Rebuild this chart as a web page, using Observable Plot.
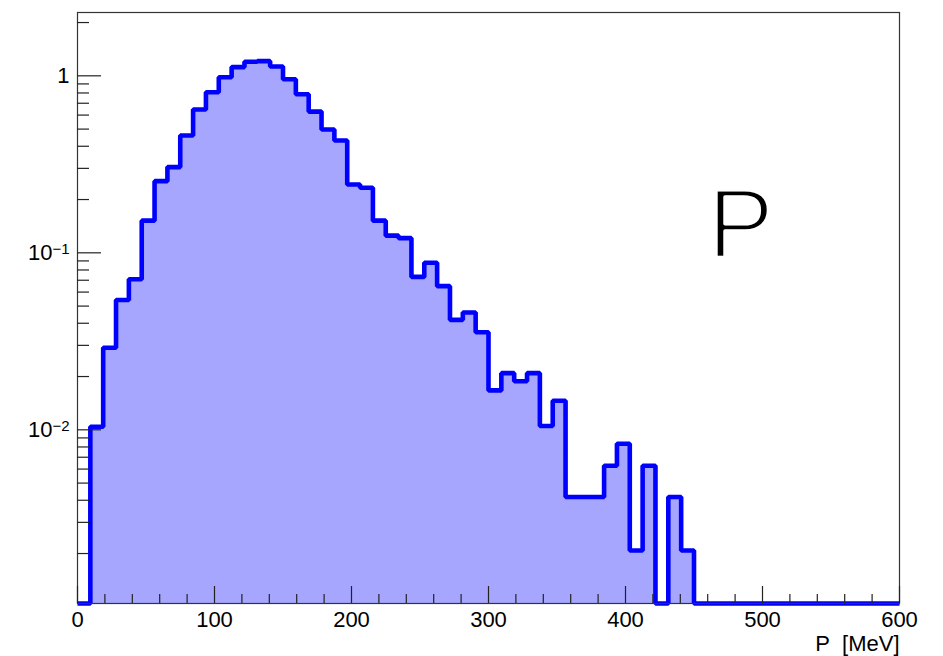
<!DOCTYPE html>
<html>
<head>
<meta charset="utf-8">
<script src="https://cdn.jsdelivr.net/npm/d3@7"></script>
<script src="https://cdn.jsdelivr.net/npm/@observablehq/plot@0.6"></script>
<style>
  body { margin: 0; background: #fff; }
  svg { display: block; }
</style>
</head>
<body>
<div id="chart"></div>
<script>
// ---- data (64 bins over 0..600 MeV) ----
const binCount = 64;
const xMin = 0, xMax = 600;
const values = [
  0,       0.0104,  0.0291,  0.0541,  0.0709,  0.152,   0.254,   0.305,
  0.46,    0.645,   0.807,   0.982,   1.12,    1.20,    1.21,    1.13,
  0.957,   0.787,   0.628,   0.497,   0.431,   0.243,   0.233,   0.152,
  0.125,   0.121,   0.0731,  0.0879,  0.0648,  0.0418,  0.046,   0.0356,
  0.0167,  0.0209,  0.0188,  0.0209,  0.0105,  0.0146,  0.00417, 0.00417,
  0.00417, 0.00626, 0.00834, 0.00208, 0.00626, 0,       0.00417, 0.00208,
  0, 0, 0, 0, 0, 0, 0, 0,
  0, 0, 0, 0, 0, 0, 0, 0
];
const xMajorTicks = [0, 100, 200, 300, 400, 500, 600];
const xMinorTicks = [20, 40, 60, 80, 120, 140, 160, 180, 220, 240, 260, 280,
  320, 340, 360, 380, 420, 440, 460, 480, 520, 540, 560, 580];
const yMajorTicks = [0.01, 0.1, 1];
const yMajorLabels = ["10^\u22122", "10^\u22121", "1"];
const yMinorMultipliers = [2, 3, 4, 5, 6, 7, 8, 9];
const yMinorDecades = [0.001, 0.01, 0.1, 1];
const yDomain = [1.044e-3, 2.279];
const annotation = [{text: "P", x: 460.1, y: 0.0953}];
const axisTitle = "P\u00A0 [MeV]";

// ---- derived tables ----
const binWidth = (xMax - xMin) / binCount;
const floorY = yDomain[0];
const outline = [{x: xMin, y: floorY}];
values.forEach((v, i) => {
  const y = v > 0 ? v : floorY;
  outline.push({x: xMin + i * binWidth, y}, {x: xMin + (i + 1) * binWidth, y});
});
outline.push({x: xMax, y: floorY});
const yMinorTicks = [];
yMinorDecades.forEach(d => yMinorMultipliers.forEach(m => {
  const t = m * d;
  if (t >= yDomain[0] && t <= yDomain[1]) yMinorTicks.push(t);
}));
const labelMap = new Map(yMajorTicks.map((t, i) => [t, yMajorLabels[i]]));

const W = 943, H = 656, mL = 77, mR = 44, mT = 12, mB = 53;
const plotW = W - mL - mR, plotH = H - mT - mB;

const chart = Plot.plot({
  width: W, height: H,
  marginLeft: mL, marginRight: mR, marginTop: mT, marginBottom: mB,
  style: {fontFamily: "'Liberation Sans', Arial, Helvetica, sans-serif", fontSize: "22px", color: "#000", background: "#fff"},
  x: {domain: [xMin, xMax]},
  y: {type: "log", domain: yDomain},
  marks: [
    Plot.areaY(outline, {x: "x", y1: () => floorY, y2: "y", fill: "#a6a6ff", curve: "linear"}),
    Plot.line(outline, {x: "x", y: "y", stroke: "#0000ff", strokeWidth: 4.6, strokeLinejoin: "miter", strokeLinecap: "butt", curve: "linear"}),
    Plot.frame({stroke: "#333", strokeWidth: 1.2}),
    Plot.tickY(yMajorTicks, {y: d => d, stroke: "#222", strokeWidth: 1.2, insetRight: plotW - 24}),
    Plot.tickY(yMinorTicks, {y: d => d, stroke: "#222", strokeWidth: 1.2, insetRight: plotW - 12}),
    Plot.tickX(xMajorTicks, {x: d => d, stroke: "#222", strokeWidth: 1.2, insetTop: plotH - 17}),
    Plot.tickX(xMinorTicks, {x: d => d, stroke: "#222", strokeWidth: 1.2, insetTop: plotH - 9}),
    Plot.axisY(yMajorTicks, {tickSize: 0, tickPadding: 8, fontSize: 22, tickFormat: d => labelMap.get(d), label: null}),
    Plot.axisX(xMajorTicks, {tickSize: 0, tickPadding: 8, fontSize: 22, label: null}),
    Plot.text(annotation, {x: "x", y: "y", text: "text", textAnchor: "start", lineAnchor: "bottom", fontSize: 99, fill: "#000", stroke: "#fff", strokeWidth: 3.6, paintOrder: "normal"}),
    Plot.text([axisTitle], {frameAnchor: "bottom-right", dy: 47, lineAnchor: "bottom", textAnchor: "end", fontSize: 22, fill: "#000"})
  ]
});

// superscripts for the log labels
chart.querySelectorAll('g[aria-label="y-axis tick label"] text').forEach(t => {
  const s = t.textContent;
  if (s.includes("^")) {
    const [base, exp] = s.split("^");
    t.textContent = "";
    const NS = "http://www.w3.org/2000/svg";
    const a = document.createElementNS(NS, "tspan");
    a.textContent = base;
    const b = document.createElementNS(NS, "tspan");
    b.textContent = exp;
    b.setAttribute("dy", "-0.42em");
    b.setAttribute("font-size", "15px");
    t.appendChild(a);
    t.appendChild(b);
  }
});

document.getElementById("chart").appendChild(chart);
</script>
</body>
</html>
